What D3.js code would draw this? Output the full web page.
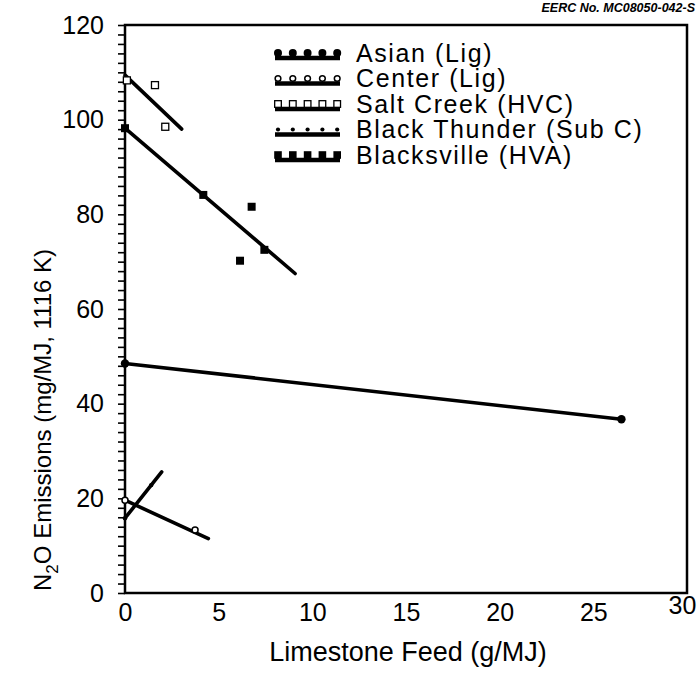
<!DOCTYPE html>
<html><head><meta charset="utf-8">
<script src="https://cdn.jsdelivr.net/npm/d3@7"></script>
<style>
body{margin:0;background:#fff}
svg{display:block}
text{font-family:"Liberation Sans",Arial,Helvetica,sans-serif;fill:#000}
</style>
</head><body>
<svg id="chart" width="699" height="675"></svg>
<script>
// ---- data ----
const seriesNames = ["Asian (Lig)", "Center (Lig)", "Salt Creek (HVC)", "Black Thunder (Sub C)", "Blacksville (HVA)"];
const markerTypes = ["filledCircle", "openCircle", "openSquare", "dot", "filledSquare"];

const asianX = [0, 26.5],            asianY = [48.5, 36.7];
const centerX = [0, 3.74],           centerY = [19.6, 13.3];
const saltX = [0.1, 1.6, 2.15],      saltY = [108.3, 107.3, 98.5];
const thunderX = [0, 1.4],           thunderY = [15.8, 22.8];
const blacksX = [0, 4.18, 7.44, 6.76, 6.14], blacksY = [98.2, 84.1, 72.5, 81.6, 70.2];

// fitted lines (end points)
const asianFitX = [0, 26.5],   asianFitY = [48.5, 36.7];
const centerFitX = [0, 4.45],  centerFitY = [19.6, 11.5];
const saltFitX = [0, 3.03],    saltFitY = [109.4, 98.0];
const thunderFitX = [0, 1.96], thunderFitY = [15.8, 25.6];
const blacksFitX = [0, 9.08],  blacksFitY = [98.2, 67.5];

const xTicks = [0, 5, 10, 15, 20, 25, 30];
const yTicks = [0, 20, 40, 60, 80, 100, 120];
const yMinorTicks = d3.range(0, 121, 2);

const xTitle = "Limestone Feed (g/MJ)";
const docId = "EERC No. MC08050-042-S";

// ---- build ----
const series = [
  {px: asianX, py: asianY, fx: asianFitX, fy: asianFitY},
  {px: centerX, py: centerY, fx: centerFitX, fy: centerFitY},
  {px: saltX, py: saltY, fx: saltFitX, fy: saltFitY},
  {px: thunderX, py: thunderY, fx: thunderFitX, fy: thunderFitY},
  {px: blacksX, py: blacksY, fx: blacksFitX, fy: blacksFitY}
].map((s, i) => ({...s, name: seriesNames[i], marker: markerTypes[i]}));

const svg = d3.select("#chart");
const L = 125, R = 687, T = 25, B = 593;
const x = d3.scaleLinear().domain([0, 30]).range([L, R]);
const y = d3.scaleLinear().domain([0, 120]).range([B, T]);

// y axis ticks
const yAxis = d3.axisLeft(y).tickValues(yMinorTicks)
  .tickFormat(d => yTicks.includes(d) ? d : "")
  .tickSize(7).tickPadding(14);
const gy = svg.append("g").attr("transform", `translate(${L},0)`).call(yAxis);
gy.select(".domain").remove();
gy.selectAll("line").attr("stroke", "#000").attr("stroke-width", 1.6);
gy.selectAll("text").style("font-size", "25px").style("font-family", '"Liberation Sans",Arial,sans-serif');

// x axis labels
const xAxis = d3.axisBottom(x).tickValues(xTicks).tickSize(0).tickPadding(10);
const gx = svg.append("g").attr("transform", `translate(0,${B})`).call(xAxis);
gx.select(".domain").remove();
gx.selectAll("text").style("font-size", "25px").style("font-family", '"Liberation Sans",Arial,sans-serif')
  .attr("dy", d => d === 30 ? "0.45em" : "0.71em")
  .attr("dx", d => d === 30 ? -5 : 0);

// frame
svg.append("rect").attr("x", L).attr("y", T).attr("width", R - L).attr("height", B - T)
  .attr("fill", "none").attr("stroke", "#000").attr("stroke-width", 2.5);

// titles
svg.append("text").attr("x", 408).attr("y", 661).attr("text-anchor", "middle")
  .style("font-size", "27px").text(xTitle);

const yt = svg.append("text").attr("transform", "translate(51,420) rotate(-90)")
  .attr("text-anchor", "middle").style("font-size", "24px");
yt.append("tspan").text("N");
yt.append("tspan").attr("dy", 7).style("font-size", "17px").text("2");
yt.append("tspan").attr("dy", -7).text("O Emissions (mg/MJ, 1116 K)");

svg.append("text").attr("x", 695).attr("y", 12).attr("text-anchor", "end")
  .style("font-size", "12.5px").style("font-style", "italic").style("font-weight", "bold")
  .text(docId);

// markers
function drawMarker(g, type, cx, cy, s) {
  s = s || 1;
  if (type === "filledCircle") g.append("circle").attr("cx", cx).attr("cy", cy).attr("r", 4.2 * s).attr("fill", "#000");
  else if (type === "openCircle") g.append("circle").attr("cx", cx).attr("cy", cy).attr("r", 3 * s).attr("fill", "#fff").attr("stroke", "#000").attr("stroke-width", 1.5);
  else if (type === "openSquare") g.append("rect").attr("x", cx - 3.5 * s).attr("y", cy - 3.5 * s).attr("width", 7 * s).attr("height", 7 * s).attr("fill", "#fff").attr("stroke", "#000").attr("stroke-width", 1.3);
  else if (type === "dot") g.append("circle").attr("cx", cx).attr("cy", cy).attr("r", 2.2 * s).attr("fill", "#000");
  else if (type === "filledSquare") g.append("rect").attr("x", cx - 4 * s).attr("y", cy - 4 * s).attr("width", 8 * s).attr("height", 8 * s).attr("fill", "#000");
}

const line = d3.line().x(d => x(d[0])).y(d => y(d[1]));
const plot = svg.append("g");
series.forEach(s => {
  plot.append("path").datum(d3.zip(s.fx, s.fy)).attr("d", line)
    .attr("fill", "none").attr("stroke", "#000").attr("stroke-width", 3.6).attr("stroke-linecap", "round");
  const mg = plot.append("g");
  d3.zip(s.px, s.py).forEach(p => drawMarker(mg, s.marker, x(p[0]), y(p[1])));
});

// legend
const lg = svg.append("g");
seriesNames.forEach((name, i) => {
  const ry = 53 + i * 25.5;
  lg.append("line").attr("x1", 275).attr("x2", 340).attr("y1", ry + 5).attr("y2", ry + 5)
    .attr("stroke", "#000").attr("stroke-width", 4.5);
  for (let k = 0; k < 5; k++) drawMarker(lg, markerTypes[i], 278 + k * 14.8, ry, 0.95);
  lg.append("text").attr("x", 356).attr("y", ry).attr("dy", "0.35em")
    .style("font-size", "25px").style("letter-spacing", "1.6px").text(name);
});
</script>
</body></html>
